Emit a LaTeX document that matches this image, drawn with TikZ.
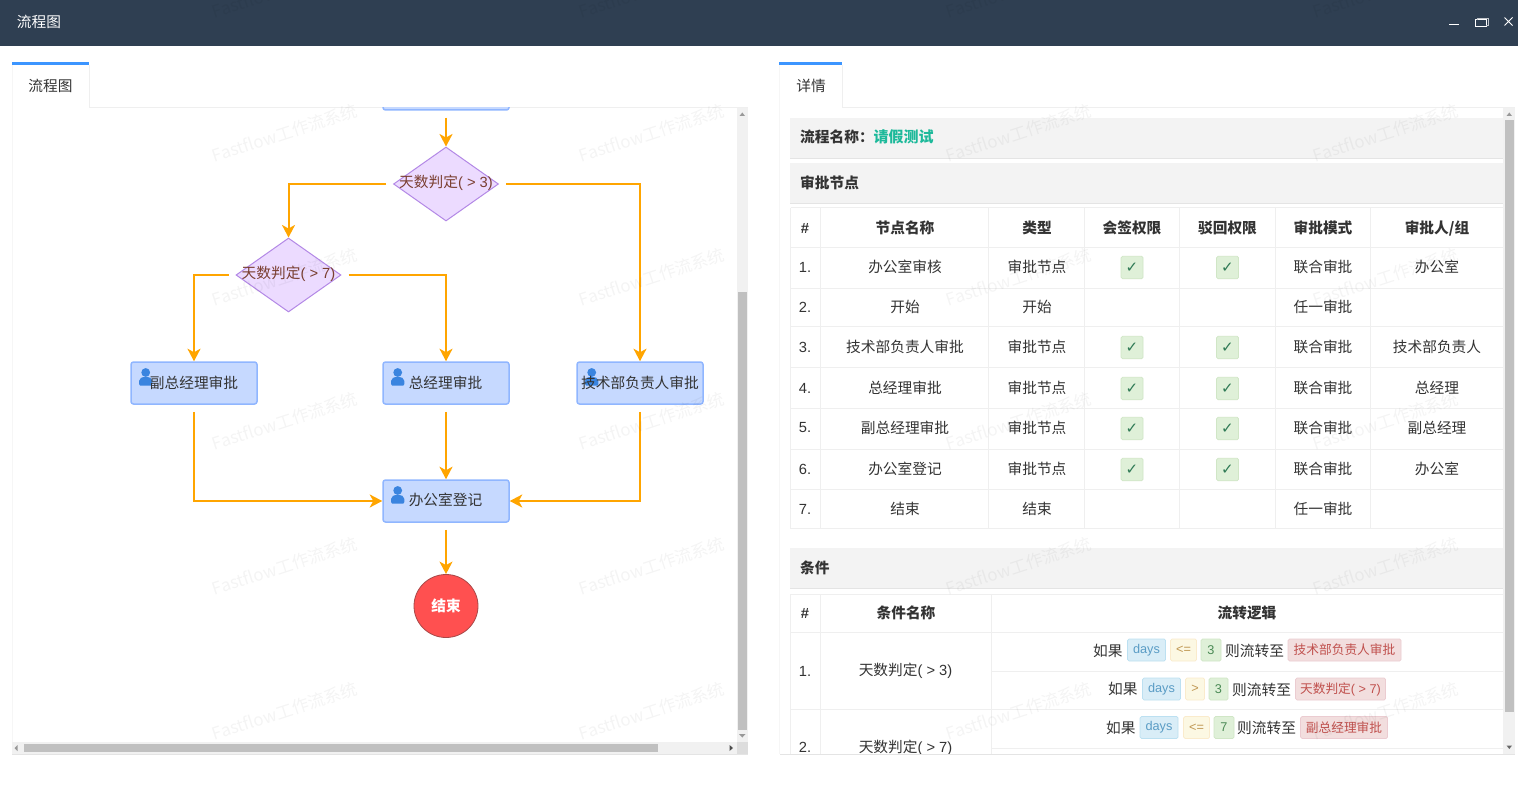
\documentclass[tikz,border=0pt]{standalone}
\usepackage{fontspec}
\usetikzlibrary{arrows.meta,shapes.geometric}
\newfontfamily\cjk{Noto Sans CJK SC}
\newfontfamily\lat{Liberation Sans}
\newfontfamily\djv{DejaVu Sans}
\definecolor{barbg}{HTML}{2F3F52}
\definecolor{tabblue}{HTML}{3C95FF}
\definecolor{hair}{HTML}{EFEFEF}
\definecolor{faint}{HTML}{F6F6F6}
\definecolor{band}{HTML}{F3F3F3}
\definecolor{bandline}{HTML}{E4E4E4}
\definecolor{ink}{HTML}{333333}
\definecolor{flowc}{HTML}{FFA500}
\definecolor{boxfill}{HTML}{C6D9FF}
\definecolor{boxline}{HTML}{90B6FF}
\definecolor{decfill}{HTML}{ECDBFF}
\definecolor{decline}{HTML}{B388E6}
\definecolor{dectext}{HTML}{7A3E30}
\definecolor{iconc}{HTML}{3A84DF}
\definecolor{track}{HTML}{F1F1F1}
\definecolor{corner}{HTML}{DDDDDD}
\definecolor{thumb}{HTML}{C0C0C0}
\definecolor{endfill}{HTML}{FF5050}
\definecolor{endline}{HTML}{A84848}
\definecolor{procname}{HTML}{1CB99A}
\definecolor{okfill}{HTML}{DFF0D8}
\definecolor{okline}{HTML}{D0E6C6}
\definecolor{okink}{HTML}{4A8A55}
\definecolor{okmark}{HTML}{2F7A55}
\definecolor{infofill}{HTML}{D9EDF7}
\definecolor{infoline}{HTML}{BCE0F1}
\definecolor{infoink}{HTML}{5A9CC5}
\definecolor{warnfill}{HTML}{FCF8E3}
\definecolor{warnline}{HTML}{FAEBCC}
\definecolor{warnink}{HTML}{C09853}
\definecolor{badfill}{HTML}{F2DEDE}
\definecolor{badline}{HTML}{EBCCD1}
\definecolor{badink}{HTML}{C0504D}
\tikzset{
 x=1pt,y=-1pt,
 txt/.style={inner sep=0pt,text=ink,font=\fontsize{14.7}{14.7}\selectfont\cjk},
 hd/.style={txt,font=\fontsize{14.7}{14.7}\selectfont\cjk\bfseries},
 tasknode/.style={draw=boxline,fill=boxfill,line width=1.5pt,rounded corners=2.5pt,minimum width=126pt,minimum height=42pt,inner sep=0pt},
 decnode/.style={diamond,draw=decline,fill=decfill,line width=1pt,minimum width=105pt,minimum height=74pt,inner sep=0pt},
 dectxt/.style={txt,text=dectext},
 flow/.style={draw=flowc,line width=2pt,shorten <=7pt,-{Stealth[length=12.5pt,width=13pt,inset=3.5pt]}},
 ok/.style={draw=okline,fill=okfill,rounded corners=1.5pt,minimum width=22pt,minimum height=22.5pt,inner sep=0pt,line width=.7pt,text=okmark,font=\fontsize{15}{15}\selectfont\djv},
 tag/.style={rounded corners=1.5pt,line width=.7pt,minimum height=22pt,inner sep=0pt,font=\fontsize{12.7}{12.7}\selectfont\cjk},
 taginfo/.style={tag,draw=infoline,fill=infofill,text=infoink},
 tagwarn/.style={tag,draw=warnline,fill=warnfill,text=warnink},
 tagok/.style={tag,draw=okline,fill=okfill,text=okink},
 tagbad/.style={tag,draw=badline,fill=badfill,text=badink},
 wm/.style={inner sep=0pt,rotate=18,text=black,opacity=.045,font=\fontsize{17}{17}\selectfont\cjk},
 rowline/.style={draw=hair,line width=1pt},
}
\newcommand{\personicon}[2]{%
 \fill[iconc] (#1+6.7,#2+4.5) circle[radius=4.4];
 \fill[iconc] (#1+1,#2+17.5) .. controls (#1,#2+17.5) and (#1,#2+16.8) .. (#1,#2+16) -- (#1,#2+13) .. controls (#1,#2+10) and (#1+3,#2+9) .. (#1+6.7,#2+9) .. controls (#1+10.4,#2+9) and (#1+13.4,#2+10) .. (#1+13.4,#2+13) -- (#1+13.4,#2+16) .. controls (#1+13.4,#2+16.8) and (#1+13.4,#2+17.5) .. (#1+12.4,#2+17.5) -- cycle;
}
\begin{document}
\begin{tikzpicture}
\useasboundingbox (0,0) rectangle (1518,805);
\fill[white] (0,0) rectangle (1518,805);
% window bar
\fill[barbg] (0,0) rectangle (1518,46);
\node[txt,text=white] (wintitle) at (39,21.5) {流程图};
\draw[white,line width=1pt] (1449,24.5) -- (1459,24.5);
\draw[white,line width=1pt] (1475,20) rectangle (1486,27);
\draw[white!70!barbg,line width=.8pt] (1477.5,20) -- (1477.5,18.5) -- (1488,18.5) -- (1488,25.5) -- (1486,25.5);
\draw[white,line width=.9pt] (1504.5,17.5) -- (1512.5,25.5) (1512.5,17.5) -- (1504.5,25.5);
% left tab
\draw[faint,line width=1pt] (12,65) -- (12,754);
\draw[hair,line width=1pt] (89,65) -- (89,107.5) -- (748,107.5);
\fill[tabblue] (12,62) rectangle (89,65);
\node[txt] (tabl) at (50.5,85.5) {流程图};
% left canvas
\begin{scope}
\clip (13,108) rectangle (737,742);
\node[tasknode] (audit) at (446,89) {};
\node[decnode] (d1) at (446,184) {};
\node[decnode] (d2) at (288.5,275) {};
\node[tasknode] (vp) at (194,383) {};
\node[tasknode] (gm) at (446,383) {};
\node[tasknode] (tech) at (640,383) {};
\node[tasknode] (office) at (446,501) {};
\node[ellipse,draw=endline,fill=endfill,line width=.8pt,minimum width=64pt,minimum height=63pt,inner sep=0pt] (endn) at (446,606) {};
\draw[flow] (audit.south) -- (d1.north);
\draw[flow] (d1.west) -| (d2.north);
\draw[flow] (d1.east) -| (tech.north);
\draw[flow] (d2.west) -| (vp.north);
\draw[flow] (d2.east) -| (gm.north);
\draw[flow] (vp.south) |- (office.west);
\draw[flow] (gm.south) -- (office.north);
\draw[flow] (tech.south) |- (office.east);
\draw[flow] (office.south) -- (endn.north);
\personicon{139}{368}
\personicon{391}{368}
\personicon{585}{368}
\personicon{391}{486}
\node[txt] (vpt) at (194,382.5) {副总经理审批};
\node[txt] (gmt) at (445.5,382.5) {总经理审批};
\node[txt] (techt) at (640,382.5) {技术部负责人审批};
\node[txt] (officet) at (445.5,500) {办公室登记};
\node[dectxt] (d1t) at (446,183) {天数判定\lat( > 3)};
\node[dectxt] (d2t) at (288.5,274) {天数判定\lat( > 7)};
\node[txt,text=white,font=\fontsize{14.7}{14.7}\selectfont\cjk\bfseries] (endt) at (446,605.5) {结束};
\end{scope}
% left scrollbars
\fill[track] (737,108) rectangle (748,754);
\fill[track] (12,742) rectangle (748,754);
\fill[corner] (737,742) rectangle (748,754);
\fill[thumb] (738,292) rectangle (747,730);
\fill[thumb] (24,744) rectangle (658,752);
\fill[gray!80] (739.5,116) -- (745,116) -- (742.3,112.5) -- cycle;
\fill[gray!80] (739,734) -- (745.5,734) -- (742.3,737.5) -- cycle;
\fill[gray!80] (17.5,745) -- (17.5,751) -- (14.5,748) -- cycle;
\fill[black!70] (729.5,745) -- (729.5,751) -- (733,748) -- cycle;
\draw[bandline,line width=1pt] (12,754.5) -- (748,754.5);
% right tab
\draw[faint,line width=1pt] (779,65) -- (779,754);
\draw[hair,line width=1pt] (842,65) -- (842,107.5) -- (1515,107.5);
\fill[tabblue] (779,62) rectangle (842,65);
\node[txt] (tabr) at (811,86) {详情};
% right panel
\begin{scope}
\clip (780,108) rectangle (1503,753);
\fill[band] (790,118) rectangle (1503,158);
\draw[bandline,line width=1pt] (790,158.5) -- (1503,158.5);
\node[hd,anchor=west] (pname) at (800,137) {流程名称：};
\node[hd,anchor=west,text=procname,font=\fontsize{15}{15}\selectfont\cjk\bfseries] (pval) at (873.5,136.5) {请假测试};
\fill[band] (790,163) rectangle (1503,203);
\draw[bandline,line width=1pt] (790,203.5) -- (1503,203.5);
\node[hd,anchor=west] (sec1) at (800,183) {审批节点};
% table 1 rules
\foreach \yy in {208,247.5,288.5,326.5,367.5,408.5,449.5,489.5,528.5}
  \draw[rowline] (790.5,\yy) -- (1503,\yy);
\foreach \xx in {790.5,820.5,988.5,1084.5,1179.5,1275.5,1370.5}
  \draw[rowline] (\xx,208) -- (\xx,528.5);
\node[hd] (h0) at (805,228) {\lat\bfseries \#};
\node[hd] (h1) at (905,228) {节点名称};
\node[hd] (h2) at (1037,228) {类型};
\node[hd] (h3) at (1132,228) {会签权限};
\node[hd] (h4) at (1227.5,228) {驳回权限};
\node[hd] (h5) at (1323,228) {审批模式};
\node[hd] (h6) at (1437,228) {审批人/组};
\foreach \r/\yy/\na/\ty/\mo/\who in {
 1/267/办公室审核/审批节点/联合审批/办公室,
 2/307/开始/开始/任一审批/{},
 3/347/技术部负责人审批/审批节点/联合审批/技术部负责人,
 4/388/总经理审批/审批节点/联合审批/总经理,
 5/428/副总经理审批/审批节点/联合审批/副总经理,
 6/469/办公室登记/审批节点/联合审批/办公室,
 7/509/结束/结束/任一审批/{}}{
  \node[txt] (n\r) at (805,\yy) {\lat\r.};
  \node[txt] (a\r) at (905,\yy) {\na};
  \node[txt] (b\r) at (1037,\yy) {\ty};
  \node[txt] (c\r) at (1323,\yy) {\mo};
  \node[txt] (e\r) at (1437,\yy) {\who};
}
\foreach \r/\yy in {1/267.5,3/347.5,4/388.5,5/428.5,6/469.5}{
  \node[ok] (p\r) at (1132,\yy) {✓};
  \node[ok] (q\r) at (1227.5,\yy) {✓};
}
% conditions
\fill[band] (790,548) rectangle (1503,588);
\draw[bandline,line width=1pt] (790,588.5) -- (1503,588.5);
\node[hd,anchor=west] (sec2) at (800,567.5) {条件};
\foreach \yy in {594,632.5,709.5}
  \draw[rowline] (790.5,\yy) -- (1503,\yy);
\foreach \yy in {671.5,748.5}
  \draw[rowline] (991.5,\yy) -- (1503,\yy);
\foreach \xx in {790.5,820.5,991.5}
  \draw[rowline] (\xx,594) -- (\xx,760);
\node[hd] (k0) at (805,613) {\lat\bfseries \#};
\node[hd] (k1) at (906,613) {条件名称};
\node[hd] (k2) at (1247,613) {流转逻辑};
\node[txt] (m1) at (805,671) {\lat 1.};
\node[txt] (m2) at (905.5,671) {天数判定\lat( > 3)};
\node[txt] (m3) at (805,747.5) {\lat 2.};
\node[txt] (m4) at (905.5,747.5) {天数判定\lat( > 7)};
% rule row 1
\node[txt,anchor=west] (r1a) at (1093,650.5) {如果};
\node[taginfo,minimum width=38pt] (r1b) at (1146.5,650) {\lat days};
\node[tagwarn,minimum width=26pt] (r1c) at (1183.5,650) {\lat <=};
\node[tagok,minimum width=20pt] (r1d) at (1211,650) {\lat 3};
\node[txt,anchor=west] (r1e) at (1225,650.5) {则流转至};
\node[tagbad,minimum width=113pt] (r1f) at (1344.5,650) {技术部负责人审批};
% rule row 2
\node[txt,anchor=west] (r2a) at (1108,689) {如果};
\node[taginfo,minimum width=38pt] (r2b) at (1161.5,689) {\lat days};
\node[tagwarn,minimum width=19pt] (r2c) at (1195,689) {\lat >};
\node[tagok,minimum width=19pt] (r2d) at (1218.5,689) {\lat 3};
\node[txt,anchor=west] (r2e) at (1232,689.5) {则流转至};
\node[tagbad,minimum width=90pt] (r2f) at (1340.5,689) {天数判定\lat( > 7)};
% rule row 3
\node[txt,anchor=west] (r3a) at (1106,728) {如果};
\node[taginfo,minimum width=38pt] (r3b) at (1159,727.5) {\lat days};
\node[tagwarn,minimum width=26pt] (r3c) at (1196.5,727.5) {\lat <=};
\node[tagok,minimum width=20pt] (r3d) at (1224,727.5) {\lat 7};
\node[txt,anchor=west] (r3e) at (1237,728) {则流转至};
\node[tagbad,minimum width=87pt] (r3f) at (1344,727.5) {副总经理审批};
\end{scope}
% right scrollbar
\fill[track] (1503,108) rectangle (1515,754);
\fill[thumb] (1505,120) rectangle (1514,712);
\fill[gray!80] (1506.5,116) -- (1512,116) -- (1509.3,112.5) -- cycle;
\fill[black!60] (1506.5,745.5) -- (1512,745.5) -- (1509.3,749) -- cycle;
\draw[bandline,line width=1pt] (780,754.5) -- (1515,754.5);
% watermark
\begin{scope}
\clip (0,0) rectangle (1518,805);
\foreach \wy [count=\i] in {-11,133,277,421,566,711}
 \foreach \wx [count=\j] in {285,652,1019,1386}
  \node[wm] (wm\i\j) at (\wx,\wy) {Fastflow工作流系统};
\end{scope}
\end{tikzpicture}
\end{document}
